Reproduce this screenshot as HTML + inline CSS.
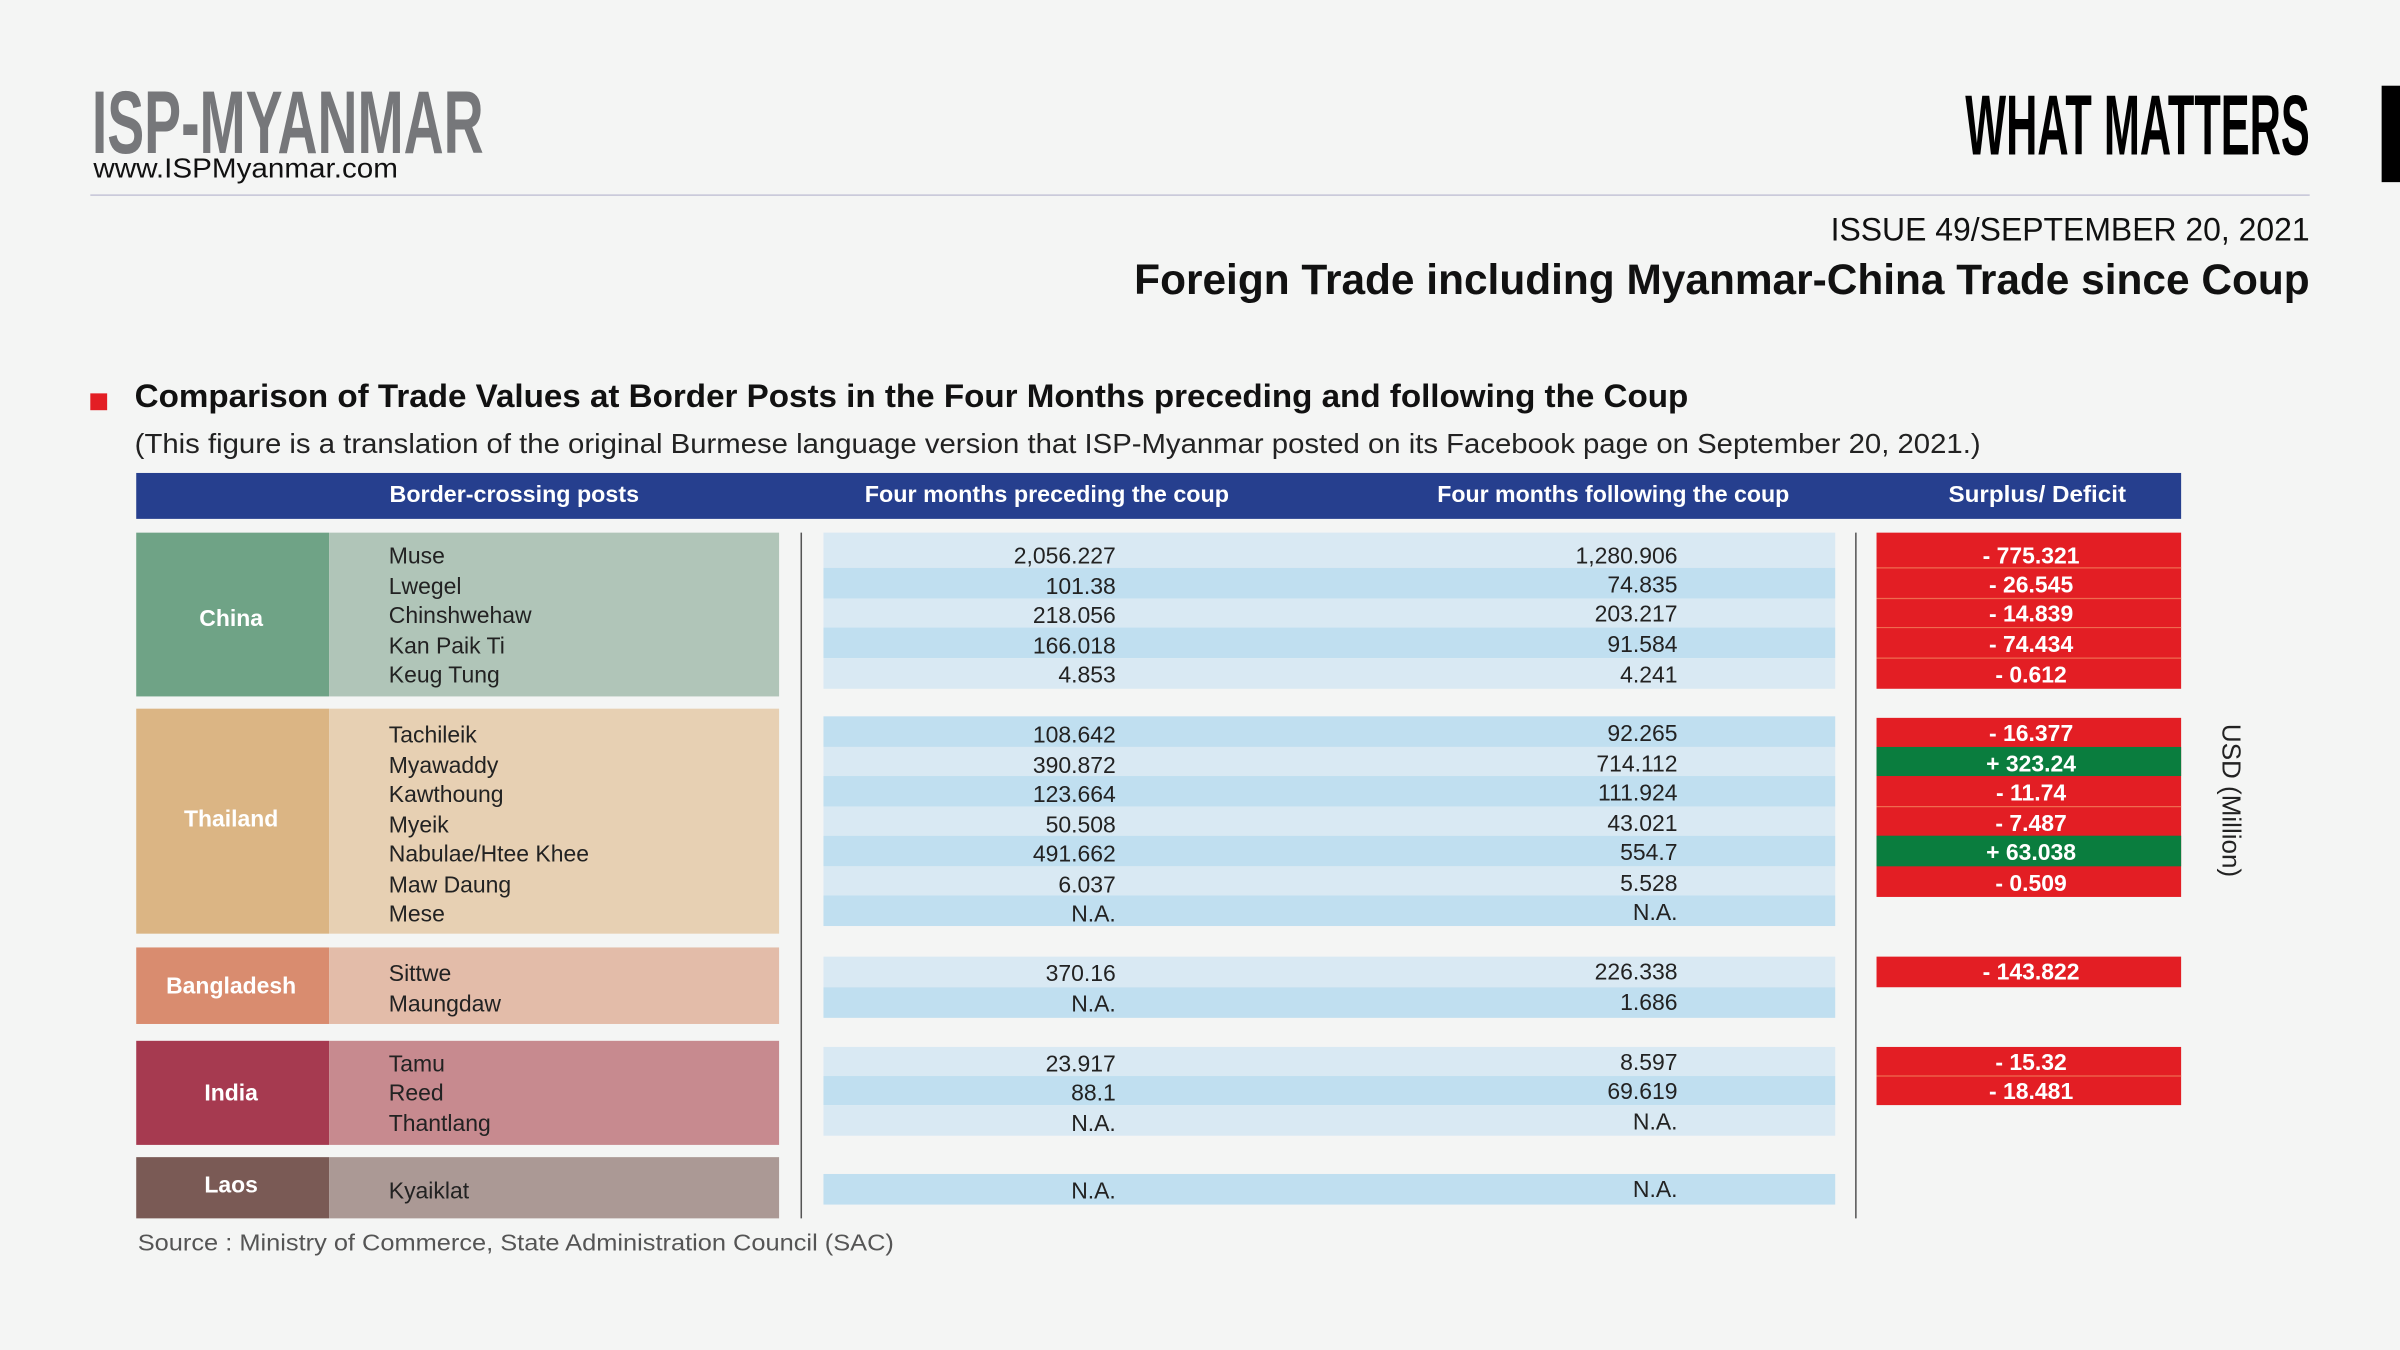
<!DOCTYPE html>
<html><head><meta charset="utf-8"><style>
html,body{margin:0;padding:0;background:#f4f5f4;}
svg{display:block;}
text{font-family:"Liberation Sans",sans-serif;}
</style></head><body>
<svg width="2400" height="1350" viewBox="0 0 1568 882" xmlns="http://www.w3.org/2000/svg">
<rect width="1568" height="882" fill="#f4f5f4"/>
<!-- header -->
<text x="60" y="100" font-size="58" font-weight="bold" fill="#76777a" textLength="256" lengthAdjust="spacingAndGlyphs">ISP-MYANMAR</text>
<text x="61" y="116" font-size="18" fill="#111" textLength="199" lengthAdjust="spacingAndGlyphs">www.ISPMyanmar.com</text>
<line x1="59" y1="127.5" x2="1509" y2="127.5" stroke="#c4c4d6" stroke-width="1"/>
<text x="1284" y="101" font-size="56" font-weight="bold" fill="#000" textLength="225" lengthAdjust="spacingAndGlyphs">WHAT MATTERS</text>
<rect x="1556" y="56" width="12" height="63" fill="#000"/>
<text x="1196" y="157" font-size="21" fill="#111" textLength="313" lengthAdjust="spacingAndGlyphs">ISSUE 49/SEPTEMBER 20, 2021</text>
<text x="741" y="192" font-size="28" font-weight="bold" fill="#111" textLength="768" lengthAdjust="spacingAndGlyphs">Foreign Trade including Myanmar-China Trade since Coup</text>
<rect x="59" y="257" width="11" height="11" fill="#e31e24"/>
<text x="88" y="266" font-size="21" font-weight="bold" fill="#111" textLength="1015" lengthAdjust="spacingAndGlyphs">Comparison of Trade Values at Border Posts in the Four Months preceding and following the Coup</text>
<text x="88" y="296" font-size="18" fill="#222" textLength="1206" lengthAdjust="spacingAndGlyphs">(This figure is a translation of the original Burmese language version that ISP-Myanmar posted on its Facebook page on September 20, 2021.)</text>
<!-- table header -->
<rect x="89" y="309" width="1336" height="30" fill="#263f8e"/>
<g fill="#fff" font-size="15" font-weight="bold" text-anchor="middle">
<text x="336" y="328" textLength="163" lengthAdjust="spacingAndGlyphs">Border-crossing posts</text>
<text x="684" y="328" textLength="238" lengthAdjust="spacingAndGlyphs">Four months preceding the coup</text>
<text x="1054" y="328" textLength="230" lengthAdjust="spacingAndGlyphs">Four months following the coup</text>
<text x="1331" y="328" textLength="116" lengthAdjust="spacingAndGlyphs">Surplus/ Deficit</text>
</g>
<!-- country blocks -->
<rect x="89" y="348" width="126" height="107" fill="#6fa386"/><rect x="215" y="348" width="294" height="107" fill="#b0c5b8"/>
<rect x="89" y="463" width="126" height="147" fill="#dbb584"/><rect x="215" y="463" width="294" height="147" fill="#e7d0b3"/>
<rect x="89" y="619" width="126" height="50" fill="#d98c6f"/><rect x="215" y="619" width="294" height="50" fill="#e3bca9"/>
<rect x="89" y="680" width="126" height="68" fill="#a63a50"/><rect x="215" y="680" width="294" height="68" fill="#c78a8f"/>
<rect x="89" y="756" width="126" height="40" fill="#7a5a55"/><rect x="215" y="756" width="294" height="40" fill="#ab9995"/>
<g fill="#fff" font-size="15" font-weight="bold" text-anchor="middle">
<text x="151" y="409">China</text>
<text x="151" y="540">Thailand</text>
<text x="151" y="649">Bangladesh</text>
<text x="151" y="719">India</text>
<text x="151" y="779">Laos</text>
</g>
<line x1="523.5" y1="348" x2="523.5" y2="796" stroke="#555" stroke-width="1"/>
<line x1="1212.5" y1="348" x2="1212.5" y2="796" stroke="#555" stroke-width="1"/>
<!-- stripes -->
<g>
<rect x="538" y="348" width="661" height="23" fill="#d9e9f3"/>
<rect x="538" y="371" width="661" height="20" fill="#c0dff0"/>
<rect x="538" y="391" width="661" height="19" fill="#d9e9f3"/>
<rect x="538" y="410" width="661" height="20" fill="#c0dff0"/>
<rect x="538" y="430" width="661" height="20" fill="#d9e9f3"/>
<rect x="538" y="468" width="661" height="20" fill="#c0dff0"/>
<rect x="538" y="488" width="661" height="19" fill="#d9e9f3"/>
<rect x="538" y="507" width="661" height="20" fill="#c0dff0"/>
<rect x="538" y="527" width="661" height="19" fill="#d9e9f3"/>
<rect x="538" y="546" width="661" height="20" fill="#c0dff0"/>
<rect x="538" y="566" width="661" height="19" fill="#d9e9f3"/>
<rect x="538" y="585" width="661" height="20" fill="#c0dff0"/>
<rect x="538" y="625" width="661" height="20" fill="#d9e9f3"/>
<rect x="538" y="645" width="661" height="20" fill="#c0dff0"/>
<rect x="538" y="684" width="661" height="19" fill="#d9e9f3"/>
<rect x="538" y="703" width="661" height="19" fill="#c0dff0"/>
<rect x="538" y="722" width="661" height="20" fill="#d9e9f3"/>
<rect x="538" y="767" width="661" height="20" fill="#c0dff0"/>
</g>
<!-- surplus boxes -->
<g>
<rect x="1226" y="348" width="199" height="102" fill="#e31e24"/>
<rect x="1226" y="469" width="199" height="117" fill="#e31e24"/>
<rect x="1226" y="488" width="199" height="19" fill="#0a7d3e"/>
<rect x="1226" y="546" width="199" height="20" fill="#0a7d3e"/>
<rect x="1226" y="625" width="199" height="20" fill="#e31e24"/>
<rect x="1226" y="684" width="199" height="38" fill="#e31e24"/>
</g>
<g stroke="#ef6b4f" stroke-width="0.8">
<line x1="1226" y1="371" x2="1425" y2="371"/><line x1="1226" y1="391" x2="1425" y2="391"/>
<line x1="1226" y1="410" x2="1425" y2="410"/><line x1="1226" y1="430" x2="1425" y2="430"/>
<line x1="1226" y1="527" x2="1425" y2="527"/><line x1="1226" y1="703" x2="1425" y2="703"/>
</g>
<!-- post names -->
<g fill="#222" font-size="15">
<text x="254" y="368">Muse</text><text x="254" y="388">Lwegel</text><text x="254" y="407">Chinshwehaw</text><text x="254" y="427">Kan Paik Ti</text><text x="254" y="446">Keug Tung</text>
<text x="254" y="485">Tachileik</text><text x="254" y="505">Myawaddy</text><text x="254" y="524">Kawthoung</text><text x="254" y="544">Myeik</text><text x="254" y="563">Nabulae/Htee Khee</text><text x="254" y="583">Maw Daung</text><text x="254" y="602">Mese</text>
<text x="254" y="641">Sittwe</text><text x="254" y="661">Maungdaw</text>
<text x="254" y="700">Tamu</text><text x="254" y="719">Reed</text><text x="254" y="739">Thantlang</text>
<text x="254" y="783">Kyaiklat</text>
</g>
<!-- preceding -->
<g fill="#222" font-size="15" text-anchor="end">
<text x="729" y="368">2,056.227</text><text x="729" y="388">101.38</text><text x="729" y="407">218.056</text><text x="729" y="427">166.018</text><text x="729" y="446">4.853</text>
<text x="729" y="485">108.642</text><text x="729" y="505">390.872</text><text x="729" y="524">123.664</text><text x="729" y="544">50.508</text><text x="729" y="563">491.662</text><text x="729" y="583">6.037</text><text x="729" y="602">N.A.</text>
<text x="729" y="641">370.16</text><text x="729" y="661">N.A.</text>
<text x="729" y="700">23.917</text><text x="729" y="719">88.1</text><text x="729" y="739">N.A.</text>
<text x="729" y="783">N.A.</text>
<text x="1096" y="368">1,280.906</text><text x="1096" y="387">74.835</text><text x="1096" y="406">203.217</text><text x="1096" y="426">91.584</text><text x="1096" y="446">4.241</text>
<text x="1096" y="484">92.265</text><text x="1096" y="504">714.112</text><text x="1096" y="523">111.924</text><text x="1096" y="543">43.021</text><text x="1096" y="562">554.7</text><text x="1096" y="582">5.528</text><text x="1096" y="601">N.A.</text>
<text x="1096" y="640">226.338</text><text x="1096" y="660">1.686</text>
<text x="1096" y="699">8.597</text><text x="1096" y="718">69.619</text><text x="1096" y="738">N.A.</text>
<text x="1096" y="782">N.A.</text>
</g>
<g fill="#fff" font-size="15" font-weight="bold" text-anchor="middle">
<text x="1327" y="368">- 775.321</text><text x="1327" y="387">- 26.545</text><text x="1327" y="406">- 14.839</text><text x="1327" y="426">- 74.434</text><text x="1327" y="446">- 0.612</text>
<text x="1327" y="484">- 16.377</text><text x="1327" y="504">+ 323.24</text><text x="1327" y="523">- 11.74</text><text x="1327" y="543">- 7.487</text><text x="1327" y="562">+ 63.038</text><text x="1327" y="582">- 0.509</text>
<text x="1327" y="640">- 143.822</text>
<text x="1327" y="699">- 15.32</text><text x="1327" y="718">- 18.481</text>
</g>
<text transform="translate(1452,523) rotate(90)" text-anchor="middle" font-size="17" fill="#222">USD (Million)</text>
<text x="90" y="817" font-size="15" fill="#555" textLength="494" lengthAdjust="spacingAndGlyphs">Source :  Ministry of Commerce, State Administration Council (SAC)</text>
</svg>
</body></html>
